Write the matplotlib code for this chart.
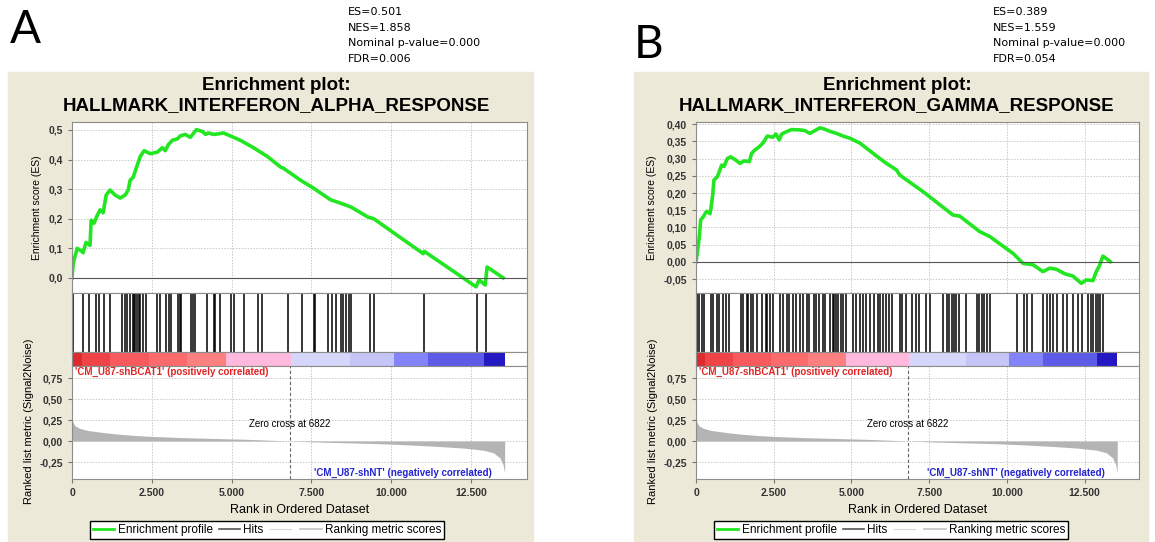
import matplotlib
matplotlib.use('Agg')
import numpy as np
import matplotlib.pyplot as plt
from matplotlib.lines import Line2D
from matplotlib.patches import Rectangle
from matplotlib.ticker import FuncFormatter

plt.rcParams['font.family'] = ['Liberation Sans', 'DejaVu Sans']

W, H = 1155, 542

# ---- values ----
n_genes = 13550
zero_cross = 6822
x_max = 14250

es_a_rank = [0, 40, 160, 310, 345, 440, 565, 600, 690, 785, 880, 975, 1070, 1190, 1350,
             1510, 1665, 1760, 1820, 1915, 2040, 2135, 2260, 2450, 2670, 2830, 2920, 3015,
             3140, 3300, 3390, 3550, 3705, 3895, 4085, 4180, 4270, 4430, 4585, 4740, 4960,
             5275, 5685, 6125, 6530, 6630, 7160, 7540, 8100, 8350, 8730, 9265, 9450, 11000,
             11030, 12655, 12750, 12940, 13000, 13505]
es_a_val = [0.0, 0.05, 0.10, 0.09, 0.085, 0.12, 0.11, 0.195, 0.185, 0.21, 0.23, 0.22, 0.28,
            0.297, 0.28, 0.27, 0.28, 0.297, 0.33, 0.34, 0.38, 0.41, 0.43, 0.42, 0.425, 0.44,
            0.43, 0.45, 0.465, 0.47, 0.48, 0.485, 0.475, 0.501, 0.495, 0.485, 0.49, 0.485,
            0.487, 0.49, 0.48, 0.465, 0.44, 0.41, 0.375, 0.37, 0.33, 0.305, 0.264, 0.255,
            0.24, 0.206, 0.2, 0.082, 0.09, -0.03, -0.007, -0.024, 0.037, 0.0]
hits_a = [41, 336, 543, 754, 857, 1014, 1193, 1561, 1665, 1718, 1822, 1906, 1947, 1988,
          2051, 2095, 2136, 2220, 2324, 2660, 2742, 2952, 3024, 3100, 3307, 3370, 3414,
          3728, 3791, 3863, 4230, 4438, 4491, 4626, 4984, 5088, 5380, 5820, 5958, 6752,
          7192, 7569, 7601, 8009, 8135, 8260, 8417, 8480, 8574, 8668, 8731, 9328, 9453,
          11024, 12688, 12971]

es_b_rank = [0, 42, 107, 150, 236, 290, 343, 450, 480, 536, 578, 685, 771, 825, 900, 1007,
             1114, 1253, 1414, 1543, 1714, 1790, 1896, 2034, 2163, 2291, 2465, 2571, 2678,
             2754, 2914, 3075, 3342, 3503, 3663, 3824, 3985, 4145, 4306, 4520, 4734, 4949,
             5270, 5697, 5913, 6126, 6449, 6555, 7304, 8268, 8483, 9126, 9447, 10196, 10518,
             10839, 11160, 11375, 11589, 11857, 12125, 12394, 12555, 12769, 12876, 12982,
             13088, 13195, 13324]
es_b_val = [0.0, 0.026, 0.073, 0.122, 0.131, 0.14, 0.147, 0.14, 0.155, 0.194, 0.238, 0.247,
            0.267, 0.281, 0.277, 0.30, 0.305, 0.297, 0.286, 0.293, 0.291, 0.315, 0.325,
            0.334, 0.346, 0.365, 0.362, 0.371, 0.354, 0.371, 0.378, 0.384, 0.383, 0.381,
            0.373, 0.381, 0.389, 0.385, 0.379, 0.373, 0.365, 0.359, 0.345, 0.315, 0.30,
            0.286, 0.267, 0.252, 0.204, 0.136, 0.133, 0.088, 0.074, 0.025, -0.004, -0.008,
            -0.028, -0.018, -0.021, -0.034, -0.041, -0.062, -0.052, -0.054, -0.028, -0.010,
            0.017, 0.010, 0.001]
hits_b = [42, 106, 183, 257, 472, 537, 684, 749, 877, 964, 1070, 1436, 1500, 1629, 1680,
          1757, 1822, 1950, 2111, 2249, 2291, 2378, 2464, 2699, 2786, 2914, 2998, 3126,
          3213, 3341, 3428, 3557, 3640, 3791, 3856, 3962, 4090, 4145, 4305, 4392, 4434,
          4498, 4572, 4649, 4733, 4820, 5035, 5141, 5269, 5356, 5462, 5591, 5719, 5857,
          5934, 6018, 6127, 6211, 6320, 6555, 6642, 6748, 6963, 7069, 7175, 7413, 7518,
          7936, 8064, 8129, 8225, 8290, 8354, 8450, 8675, 9029, 9093, 9189, 9254, 9350,
          9446, 10314, 10539, 10635, 10796, 11149, 11278, 11374, 11470, 11599, 11792,
          11920, 12113, 12274, 12402, 12595, 12691, 12756, 12852, 12916, 12980, 13077]

metric_rank = [0, 30, 100, 250, 500, 1000, 1500, 2000, 2500, 3500, 4500, 5500, 6200, 6822,
               7500, 8500, 9500, 10500, 11500, 12300, 12900, 13200, 13400, 13500, 13550]
metric_val = [0.27, 0.22, 0.18, 0.15, 0.125, 0.10, 0.08, 0.065, 0.055, 0.04, 0.03, 0.02,
              0.01, 0.0, -0.01, -0.02, -0.03, -0.045, -0.065, -0.085, -0.11, -0.14, -0.2,
              -0.28, -0.38]

bar_edges = [0, 300, 1200, 2400, 3600, 4810, 6850, 8700, 10080, 11150, 12900, 13550]
bar_colors = ['#dd2a2e', '#ee4448', '#f65a5c', '#fb6b6c', '#fd8080', '#ffb9dd',
              '#d6d6fb', '#c5c5f8', '#8484fa', '#5c5ce8', '#2418c2']

x_ticks = [0, 2500, 5000, 7500, 10000, 12500]
metric_ticks = [-0.25, 0.0, 0.25, 0.5, 0.75]
es_ticks_a = [0.0, 0.1, 0.2, 0.3, 0.4, 0.5]
es_ticks_b = [-0.05, 0.0, 0.05, 0.10, 0.15, 0.20, 0.25, 0.30, 0.35, 0.40]

stats_a = ['ES=0.501', 'NES=1.858', 'Nominal p-value=0.000', 'FDR=0.006']
stats_b = ['ES=0.389', 'NES=1.559', 'Nominal p-value=0.000', 'FDR=0.054']
title_a = 'HALLMARK_INTERFERON_ALPHA_RESPONSE'
title_b = 'HALLMARK_INTERFERON_GAMMA_RESPONSE'

fig = plt.figure(figsize=(W / 100, H / 100), dpi=100)


def px_axes(x0, y0, x1, y1):
    return fig.add_axes([x0 / W, 1 - y1 / H, (x1 - x0) / W, (y1 - y0) / H])


def thousands(v, pos):
    return f'{int(v):,}'.replace(',', '.')


def comma_fmt(dec):
    return FuncFormatter(lambda v, pos: f'{v:.{dec}f}'.replace('.', ','))


def frame(ax):
    for s in ax.spines.values():
        s.set_color('#8c8c8c')
        s.set_linewidth(0.8)
    ax.set_xlim(0, x_max)


def ticks(ax):
    ax.tick_params(length=3, color='#777777', labelsize=7.5, labelcolor='#333333')
    for lab in ax.get_xticklabels() + ax.get_yticklabels():
        lab.set_fontweight('bold')


def panel(letter, letter_xy, stats, stats_x, box, ax_x, title, es_rank, es_val,
          hits, es_ticks, es_dec, es_ylim, es_lab_x, rank_lab_x, legend_x):
    bx0, bx1 = box
    fig.add_artist(Rectangle((bx0 / W, 0), (bx1 - bx0) / W, 1 - 72 / H,
                             transform=fig.transFigure, color='#ece9d8', zorder=-10))
    fig.text(letter_xy[0] / W, 1 - letter_xy[1] / H, letter, fontsize=33,
             family=['Lato', 'DejaVu Sans'], va='center', ha='left')
    for i, s in enumerate(stats):
        fig.text(stats_x / W, 1 - (12 + 15.6 * i) / H, s, fontsize=8,
                 family=['DejaVu Sans'], va='center', ha='left')
    cx = (bx0 + bx1) / 2 + 6
    fig.text(cx / W, 1 - 86 / H, 'Enrichment plot:', fontsize=13.5,
             fontweight='bold', ha='center', va='center')
    fig.text(cx / W, 1 - 106 / H, title, fontsize=13.5,
             fontweight='bold', ha='center', va='center')

    x0, x1 = ax_x
    grid_kw = dict(color='#c8c8c8', lw=0.7, ls=(0, (1.5, 1.5)))

    # enrichment score
    ax = px_axes(x0, 122, x1, 293)
    frame(ax)
    ax.plot(es_rank, es_val, color='#22e622', lw=2.6, solid_joinstyle='round')
    ax.axhline(0, color='#555555', lw=0.8)
    ax.set_ylim(*es_ylim)
    ax.set_yticks(es_ticks)
    ax.yaxis.set_major_formatter(comma_fmt(es_dec))
    ax.set_xticks(x_ticks)
    ticks(ax)
    ax.tick_params(axis='x', length=0, labelbottom=False)
    ax.grid(True, **grid_kw)
    ax.set_axisbelow(True)
    fig.text(es_lab_x / W, 1 - 208 / H, 'Enrichment score (ES)', rotation=90,
             fontsize=7.5, ha='center', va='center')

    # hits
    ax = px_axes(x0, 293, x1, 352)
    frame(ax)
    ax.vlines(hits, 0, 1, color='black', lw=1.1)
    ax.set_ylim(0, 1)
    ax.set_xticks([])
    ax.set_yticks([])

    # ranked list colour bar
    ax = px_axes(x0, 352, x1, 366)
    frame(ax)
    ax.bar(bar_edges[:-1], 1, width=np.diff(bar_edges), align='edge',
           color=bar_colors, lw=0)
    ax.set_ylim(0, 1)
    ax.set_xticks([])
    ax.set_yticks([])

    # ranked list metric
    ax = px_axes(x0, 366, x1, 479)
    frame(ax)
    ax.fill_between(metric_rank, metric_val, 0, color='#b4b4b4', lw=0)
    ax.set_ylim(-0.452, 0.893)
    ax.set_yticks(metric_ticks)
    ax.yaxis.set_major_formatter(comma_fmt(2))
    ax.set_xticks(x_ticks)
    ax.xaxis.set_major_formatter(FuncFormatter(thousands))
    ticks(ax)
    ax.grid(True, **grid_kw)
    ax.set_axisbelow(True)
    ax.axvline(zero_cross, color='#666666', lw=0.8, ls=(0, (3, 2)))
    ax.text(zero_cross, 0.2, f'Zero cross at {zero_cross}', fontsize=7,
            ha='center', va='center')
    ax.text(90, 0.82, "'CM_U87-shBCAT1' (positively correlated)", fontsize=7,
            fontweight='bold', color='#e02424', ha='left', va='center')
    ax.text(13150, -0.38, "'CM_U87-shNT' (negatively correlated)", fontsize=7,
            fontweight='bold', color='#2424d0', ha='right', va='center')
    ax.set_xlabel('Rank in Ordered Dataset', fontsize=9, labelpad=4)
    fig.text(rank_lab_x / W, 1 - 421 / H, 'Ranked list metric (Signal2Noise)',
             rotation=90, fontsize=8, ha='center', va='center')

    handles = [Line2D([], [], color='#22e622', lw=2),
               Line2D([], [], color='#555555', lw=1.2),
               Line2D([], [], color='#d8d8d8', lw=0.8),
               Line2D([], [], color='#c4c4c4', lw=1.2)]
    labels = ['Enrichment profile', 'Hits', '', 'Ranking metric scores']
    fig.legend(handles, labels, loc='upper left', ncol=4,
               bbox_to_anchor=(legend_x / W, 1 - 521 / H), borderaxespad=0,
               fontsize=8.5, frameon=True, fancybox=False, edgecolor='black',
               framealpha=1, handlelength=1.8, handletextpad=0.3,
               columnspacing=0.5, borderpad=0.25)


panel('A', (10, 30), stats_a, 348, (8, 533), (72, 527), title_a, es_a_rank, es_a_val,
      hits_a, es_ticks_a, 1, (-0.051, 0.527), 37, 29, 90)
panel('B', (634, 45), stats_b, 993, (634, 1148), (696, 1139), title_b, es_b_rank,
      es_b_val, hits_b, es_ticks_b, 2, (-0.09, 0.406), 652, 653, 714)

fig.savefig('out.png', dpi=100)
